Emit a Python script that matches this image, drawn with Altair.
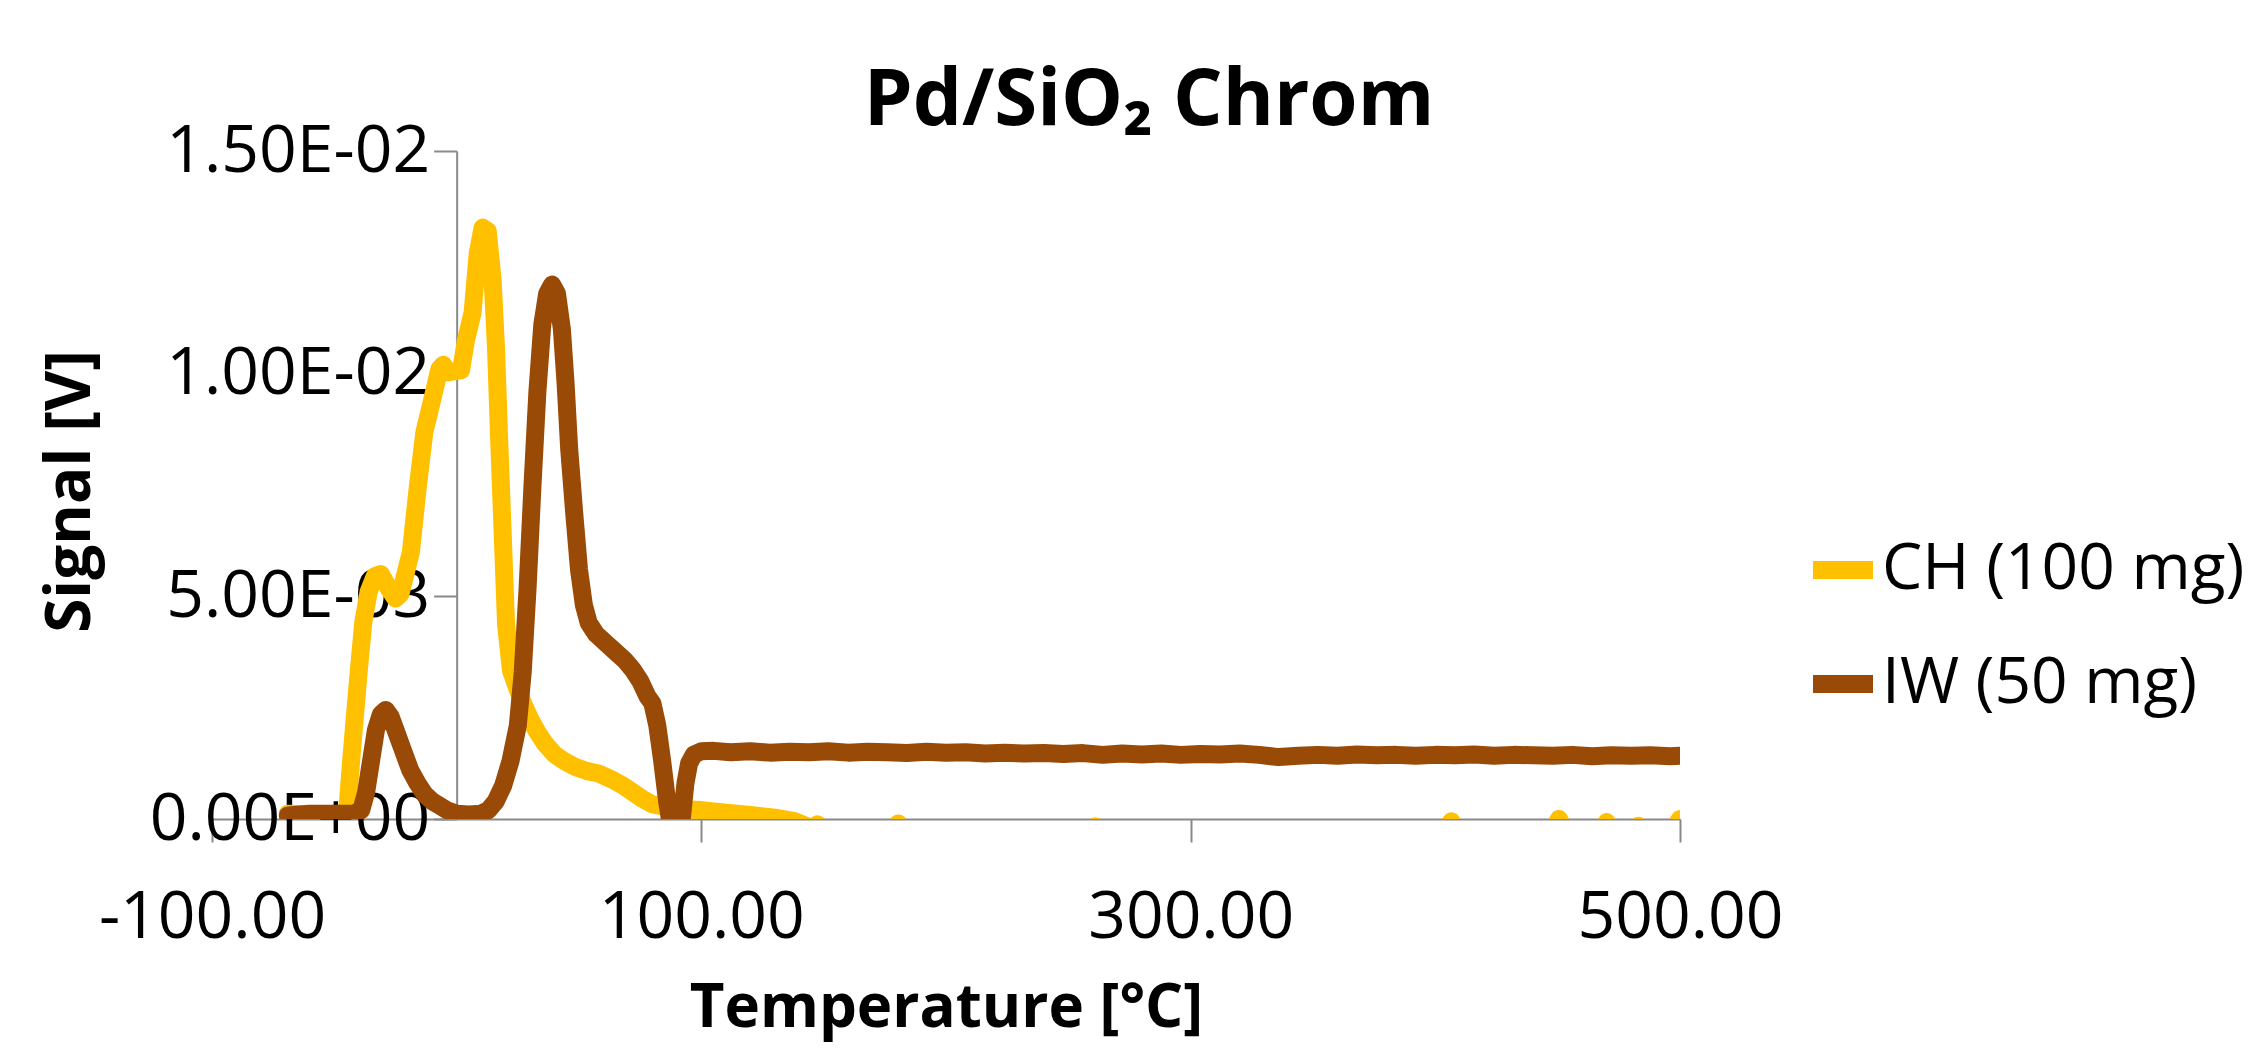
import altair as alt
import pandas as pd

# ---- data (signal values in units of 1e-3 V) ----
series_names = ["CH (100 mg)", "IW (50 mg)"]
series_colors = ["#FFC000", "#994A06"]

ch_temp = [-69, -60, -52, -47, -44.6, -43.2, -41.6, -40, -38.2, -36, -33.5, -31, -28, -25,
           -23, -21.4, -18.7, -15.9, -13.2, -10.5, -7.1, -5.5, -3.7, 1.8, 3.8, 6.5, 8.6,
           10.6, 12.7, 14.7, 16.1, 17.4, 18.8, 20.2, 22.2, 25, 27.5, 30, 33, 36, 40, 44,
           48, 53, 58, 63, 68, 72, 76, 80, 85, 92, 100, 110, 120, 130, 138, 145, 147.5,
           150, 178, 180.5, 183, 259, 261, 263, 404, 406.5, 409, 448, 450.5, 453, 468,
           470, 472, 481, 483, 485, 497, 500]
ch_signal_e3 = [0.12, 0.10, 0.10, 0.12, 0.25, 1.26, 2.3, 3.33, 4.4, 5.1, 5.45, 5.5, 5.2, 4.95,
                5.05, 5.4, 6.0, 7.45, 8.69, 9.3, 10.1, 10.2, 10.03, 10.08, 10.75, 11.37,
                12.7, 13.28, 13.2, 12.1, 10.55, 8.48, 6.42, 4.36, 3.33, 2.9, 2.55, 2.25,
                1.95, 1.7, 1.45, 1.3, 1.18, 1.08, 1.02, 0.9, 0.75, 0.6, 0.45, 0.33, 0.28,
                0.22, 0.2, 0.14, 0.09, 0.03, -0.05, -0.2, -0.12, -0.25, -0.25, -0.1, -0.25,
                -0.25, -0.17, -0.25, -0.25, -0.05, -0.25, -0.25, 0.0, -0.25, -0.25, -0.07,
                -0.25, -0.25, -0.15, -0.25, -0.25, 0.0]

iw_temp = [-69, -60, -50, -42, -39, -37, -35, -33, -31, -29, -27, -25, -22, -19, -16, -13,
           -10, -7, -4, 0, 5, 10, 13, 16, 19, 22, 25, 27, 29, 31, 33, 35, 37, 39, 41, 43,
           44.5, 46, 48, 50, 52, 54, 57, 61, 65, 69, 72, 75, 78, 80, 82, 84, 86, 88, 90,
           92, 93.5, 95, 97, 100, 105, 112, 120, 128, 136, 144, 152, 160, 168, 176, 184,
           192, 200, 208, 216, 224, 232, 240, 248, 256, 264, 272, 280, 288, 296, 304, 312,
           320, 328, 336, 344, 352, 360, 368, 376, 384, 392, 400, 408, 416, 424, 432, 440,
           448, 456, 464, 472, 480, 488, 496, 500]
iw_signal_e3 = [0.08, 0.12, 0.12, 0.12, 0.2, 0.6, 1.3, 2.0, 2.35, 2.45, 2.3, 2.0, 1.55, 1.1,
                0.8, 0.55, 0.4, 0.3, 0.2, 0.12, 0.1, 0.12, 0.2, 0.4, 0.75, 1.3, 2.1, 3.3,
                5.2, 7.5, 9.6, 11.1, 11.8, 12.0, 11.8, 11.0, 9.8, 8.3, 6.9, 5.6, 4.8, 4.4,
                4.15, 3.95, 3.75, 3.55, 3.35, 3.1, 2.75, 2.6, 2.1, 1.3, 0.4, -0.3, -0.6,
                0.0, 0.8, 1.25, 1.45, 1.52, 1.53, 1.50, 1.52, 1.49, 1.51, 1.50, 1.52, 1.49,
                1.51, 1.50, 1.48, 1.51, 1.49, 1.50, 1.47, 1.49, 1.47, 1.48, 1.46, 1.48,
                1.44, 1.47, 1.45, 1.47, 1.44, 1.46, 1.45, 1.47, 1.44, 1.39, 1.42, 1.44,
                1.42, 1.45, 1.43, 1.44, 1.42, 1.44, 1.43, 1.45, 1.42, 1.44, 1.43, 1.42,
                1.44, 1.41, 1.43, 1.42, 1.43, 1.41, 1.42]

x_ticks = [-100, 100, 300, 500]
y_ticks = [0, 0.005, 0.010, 0.015]

rows = []
for name, temps, sig in [(series_names[0], ch_temp, ch_signal_e3),
                         (series_names[1], iw_temp, iw_signal_e3)]:
    for i, (t, s) in enumerate(zip(temps, sig)):
        rows.append({"Series": name, "T": t, "S": s * 1e-3, "order": i})
df = pd.DataFrame(rows)

PW, PH = 1468, 668
AX = "#898989"

chart = alt.Chart(df).mark_line(
    strokeWidth=18, strokeCap="round", strokeJoin="round", clip=True
).encode(
    x=alt.X("T:Q",
            scale=alt.Scale(domain=[-100, 500], nice=False, zero=False),
            axis=alt.Axis(values=x_ticks, title="Temperature [°C]", grid=False,
                          labelExpr="datum.value < 0 ? '-' + format(-datum.value, '.2f') : format(datum.value, '.2f')",
                          labelFont="Open Sans", labelFontSize=66, labelColor="black",
                          labelBaseline="alphabetic", labelPadding=95, labelLimit=0,
                          labelFlush=False, labelOverlap=False,
                          tickSize=23, tickWidth=2, tickColor=AX,
                          domainColor=AX, domainWidth=2,
                          titleFont="Open Sans", titleFontSize=60, titleFontWeight="bold",
                          titleColor="black", titleBaseline="alphabetic", titleY=207,
                          titleLimit=0)),
    y=alt.Y("S:Q",
            scale=alt.Scale(domain=[0, 0.015], nice=False),
            axis=alt.Axis(values=y_ticks, title="Signal [V]", grid=False,
                          labelExpr="replace(replace(upper(format(datum.value, '.2e')), 'E-', 'E-0'), 'E+', 'E+0')",
                          labelFont="Open Sans", labelFontSize=66, labelColor="black",
                          labelBaseline="middle", labelPadding=4, labelLimit=0,
                          labelFlush=False, labelOverlap=False,
                          offset=-PW * 100 / 600,
                          tickSize=23, tickWidth=2, tickColor=AX,
                          domainColor=AX, domainWidth=2,
                          titleFont="Open Sans", titleFontSize=62, titleFontWeight="bold",
                          titleColor="black", titleAngle=-90, titleAlign="center",
                          titleBaseline="alphabetic", titleX=-367, titleY=340,
                          titleLimit=0)),
    color=alt.Color("Series:N",
                    scale=alt.Scale(domain=series_names, range=series_colors),
                    legend=alt.Legend(orient="none", legendX=1592, legendY=380, title=None,
                                      labelFont="Open Sans", labelFontSize=64,
                                      labelColor="black", symbolType="stroke",
                                      symbolStrokeWidth=18, symbolSize=3600,
                                      rowPadding=39, labelOffset=0, labelLimit=0)),
    order="order:Q",
).properties(
    width=PW, height=PH,
    title=alt.TitleParams(text="Pd/SiO₂ Chrom", font="Open Sans", fontSize=78,
                          fontWeight="bold", color="black", anchor="middle",
                          dx=203, dy=85, offset=0, baseline="alphabetic"),
    autosize=alt.AutoSizeParams(type="none"),
    padding={"left": 204, "top": 143, "right": 572, "bottom": 225},
).configure(
    background="white",
    view=alt.ViewConfig(stroke="transparent", strokeWidth=0),
)

chart.save("out.html", embed_options={"renderer": "svg", "actions": False})
